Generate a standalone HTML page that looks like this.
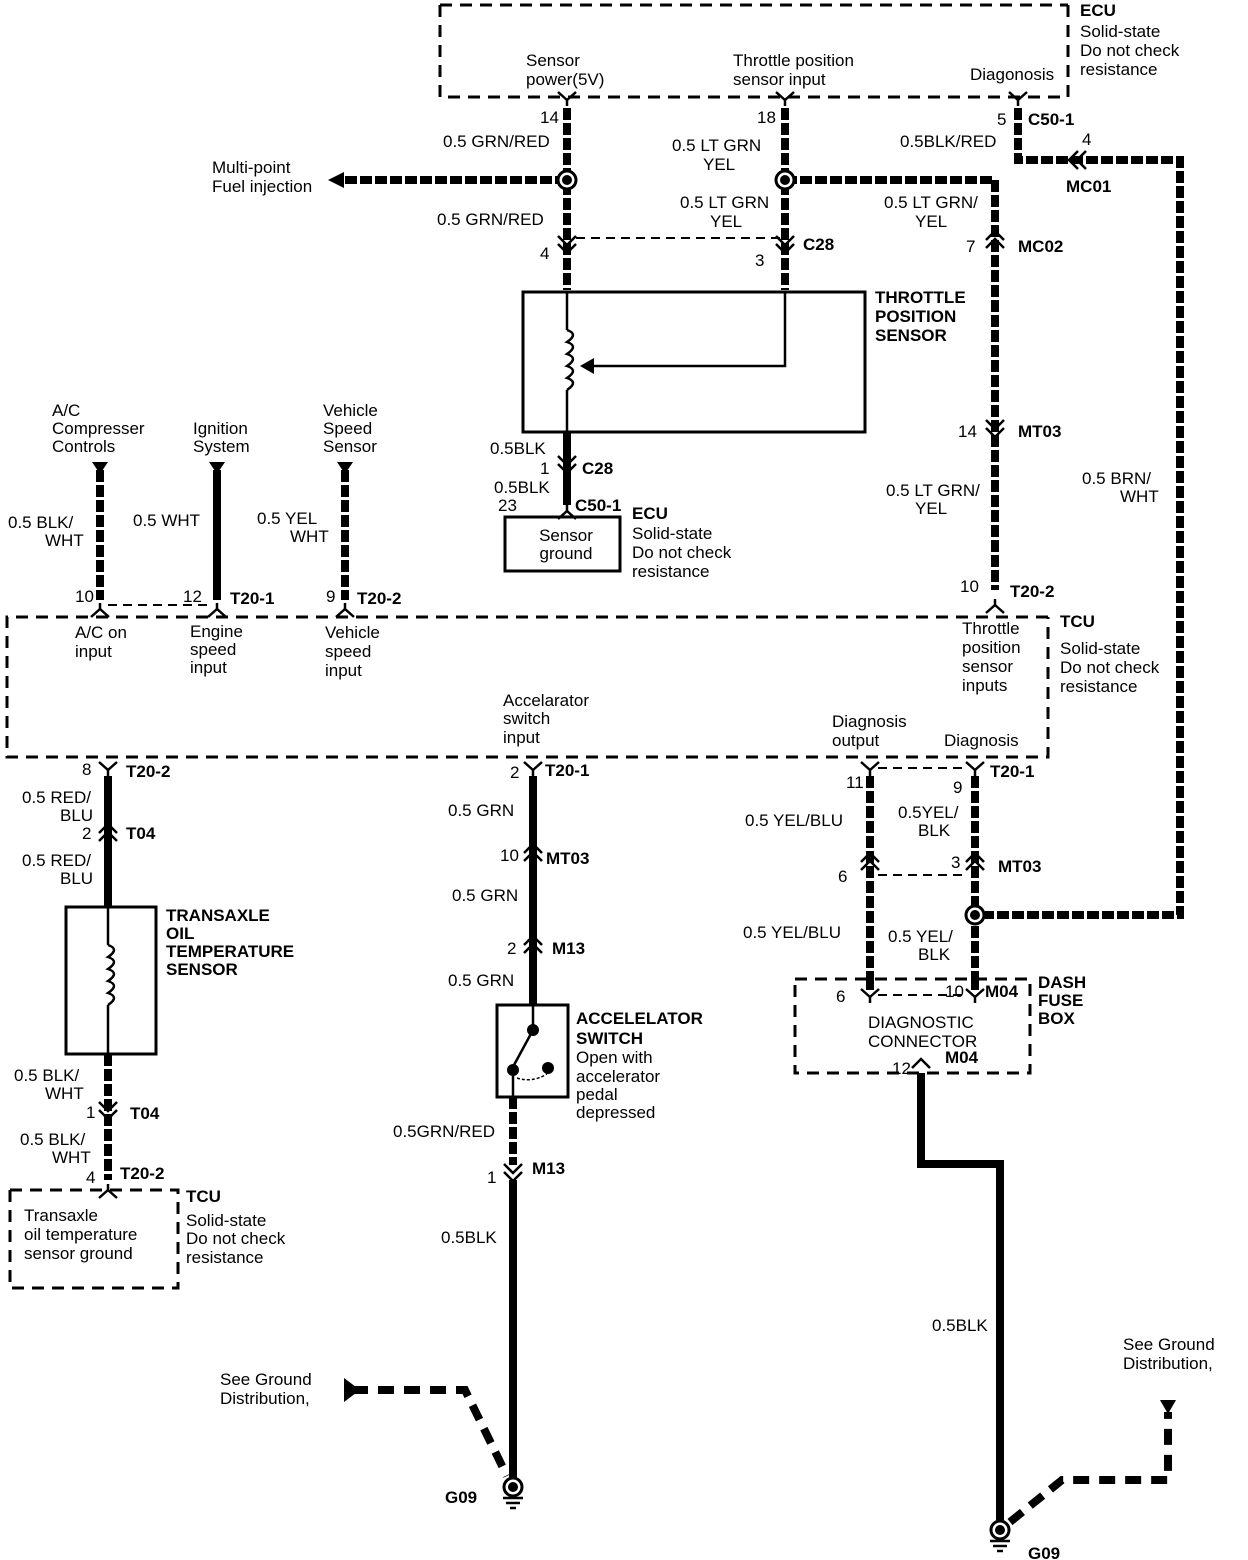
<!DOCTYPE html>
<html><head><meta charset="utf-8"><style>
html,body{margin:0;padding:0;background:#fff}
svg{display:block}
text{font-family:"Liberation Sans",sans-serif;font-size:17px;fill:#000}
.b{font-weight:bold}
.s{stroke:#000;stroke-width:8;fill:none;stroke-dasharray:12 3}
.w{stroke:#000;stroke-width:8;fill:none}
.d{stroke:#000;stroke-width:3;fill:none;stroke-dasharray:12 8}
.dt{stroke:#000;stroke-width:2;fill:none;stroke-dasharray:9 6}
.g{stroke:#000;stroke-width:8;fill:none;stroke-dasharray:16 10}
.t{stroke:#000;stroke-width:2.5;fill:none}
</style></head><body>
<svg width="1248" height="1560" viewBox="0 0 1248 1560" xmlns="http://www.w3.org/2000/svg">
<defs>
<g id="dn"><polyline class="t" points="-9,-8 0,1 9,-8"/><polyline class="t" points="-9,0 0,9 9,0"/></g>
<g id="up"><polyline class="t" points="-9,8 0,-1 9,8"/><polyline class="t" points="-9,0 0,-9 9,0"/></g>
<g id="yd"><polyline class="t" points="-9,-8 0,0 9,-8"/><line class="t" x1="0" y1="0" x2="0" y2="6"/></g>
<g id="yu"><polyline class="t" points="-9,8 0,0 9,8"/><line class="t" x1="0" y1="0" x2="0" y2="-6"/></g>
<g id="sp"><circle r="9" fill="#fff" stroke="#000" stroke-width="3"/><circle r="5" fill="#000"/></g>
</defs>

<!-- ECU top box -->
<polyline class="d" points="440,5 1068,5"/>
<polyline class="d" points="440,5 440,97 1068,97 1068,5"/>
<text x="1080" y="16" class="b">ECU</text>
<text x="1080" y="37">Solid-state</text>
<text x="1080" y="56">Do not check</text>
<text x="1080" y="75">resistance</text>
<text x="526" y="66">Sensor</text>
<text x="526" y="85">power(5V)</text>
<text x="733" y="66">Throttle position</text>
<text x="733" y="85">sensor input</text>
<text x="970" y="80">Diagonosis</text>

<!-- wire 1 -->
<line class="s" x1="567" y1="108" x2="567" y2="290"/>
<use href="#yd" x="567" y="100"/>
<text x="540" y="123">14</text>
<text x="443" y="147">0.5 GRN/RED</text>
<line class="s" x1="567" y1="180" x2="340" y2="180"/>
<polygon points="328,180 344,172 344,188" fill="#000"/>
<text x="212" y="173">Multi-point</text>
<text x="212" y="192">Fuel injection</text>
<use href="#sp" x="567" y="180"/>
<text x="437" y="225">0.5 GRN/RED</text>
<use href="#dn" x="567" y="244"/>
<text x="540" y="259">4</text>
<line class="dt" x1="576" y1="238" x2="780" y2="238"/>

<!-- wire 2 -->
<line class="s" x1="785" y1="108" x2="785" y2="290"/>
<use href="#yd" x="785" y="100"/>
<text x="757" y="123">18</text>
<text x="672" y="151">0.5 LT GRN</text>
<text x="703" y="170">YEL</text>
<line class="s" x1="785" y1="180" x2="995" y2="180"/>
<line class="s" x1="995" y1="180" x2="995" y2="590"/>
<use href="#sp" x="785" y="180"/>
<text x="680" y="208">0.5 LT GRN</text>
<text x="710" y="227">YEL</text>
<use href="#dn" x="785" y="244"/>
<text x="755" y="266">3</text>
<text x="803" y="250" class="b">C28</text>

<!-- wire 3 -->
<polyline class="s" points="1018,108 1018,160 1180,160 1180,915 985,915"/>
<use href="#yd" x="1018" y="100"/>
<text x="997" y="125">5</text>
<text x="1028" y="125" class="b">C50-1</text>
<text x="900" y="147">0.5BLK/RED</text>
<text x="1082" y="145">4</text>
<g transform="translate(1078,160) rotate(90)"><use href="#dn"/></g>
<text x="1066" y="192" class="b">MC01</text>
<text x="1082" y="484">0.5  BRN/</text>
<text x="1120" y="502">WHT</text>

<!-- right column labels -->
<text x="884" y="208">0.5 LT GRN/</text>
<text x="915" y="227">YEL</text>
<use href="#up" x="995" y="240"/>
<text x="966" y="252">7</text>
<text x="1018" y="252" class="b">MC02</text>
<use href="#dn" x="995" y="428"/>
<text x="958" y="437">14</text>
<text x="1018" y="437" class="b">MT03</text>
<text x="886" y="496">0.5 LT GRN/</text>
<text x="915" y="514">YEL</text>
<text x="960" y="592">10</text>
<text x="1010" y="597" class="b">T20-2</text>
<use href="#yu" x="995" y="605"/>

<!-- TPS -->
<rect x="523" y="292" width="342" height="140" fill="none" stroke="#000" stroke-width="3"/>
<line class="t" x1="567" y1="292" x2="567" y2="330"/>
<path d="M567,330 q12,4 0,12 q12,4 0,12 q12,4 0,12 q12,4 0,12 q12,4 0,12" class="t"/>
<line class="t" x1="567" y1="390" x2="567" y2="432"/>
<polyline class="t" points="785,292 785,366 592,366"/>
<polygon points="580,366 594,358 594,374" fill="#000"/>
<text x="875" y="303" class="b">THROTTLE</text>
<text x="875" y="322" class="b">POSITION</text>
<text x="875" y="341" class="b">SENSOR</text>

<line class="w" x1="567" y1="432" x2="567" y2="505"/>
<text x="490" y="454">0.5BLK</text>
<use href="#dn" x="567" y="464"/>
<text x="540" y="474">1</text>
<text x="582" y="474" class="b">C28</text>
<text x="494" y="493">0.5BLK</text>
<text x="498" y="511">23</text>
<text x="575" y="511" class="b">C50-1</text>
<use href="#yu" x="567" y="511"/>
<rect x="505" y="517" width="115" height="54" fill="none" stroke="#000" stroke-width="3"/>
<text x="566" y="541" text-anchor="middle">Sensor</text>
<text x="566" y="559" text-anchor="middle">ground</text>
<text x="632" y="519" class="b">ECU</text>
<text x="632" y="539">Solid-state</text>
<text x="632" y="558">Do not check</text>
<text x="632" y="577">resistance</text>

<!-- left inputs -->
<line class="s" x1="100" y1="470" x2="100" y2="600"/>
<polygon points="92,462 108,462 100,474" fill="#000"/>
<text x="52" y="416">A/C</text>
<text x="52" y="434">Compresser</text>
<text x="52" y="452">Controls</text>
<text x="8" y="528">0.5 BLK/</text>
<text x="45" y="546">WHT</text>
<text x="75" y="602">10</text>
<line class="w" x1="217" y1="470" x2="217" y2="600"/>
<polygon points="209,462 225,462 217,474" fill="#000"/>
<text x="193" y="434">Ignition</text>
<text x="193" y="452">System</text>
<text x="133" y="526">0.5 WHT</text>
<text x="183" y="602">12</text>
<text x="230" y="604" class="b">T20-1</text>
<line class="s" x1="345" y1="470" x2="345" y2="600"/>
<polygon points="337,462 353,462 345,474" fill="#000"/>
<text x="323" y="416">Vehicle</text>
<text x="323" y="434">Speed</text>
<text x="323" y="452">Sensor</text>
<text x="257" y="524">0.5 YEL</text>
<text x="290" y="542">WHT</text>
<text x="326" y="602">9</text>
<text x="357" y="604" class="b">T20-2</text>
<line class="dt" x1="108" y1="605" x2="210" y2="605"/>
<use href="#yu" x="100" y="609"/>
<use href="#yu" x="217" y="609"/>
<use href="#yu" x="345" y="609"/>

<!-- TCU big box -->
<polyline class="d" points="1048,617 7,617 7,757 1048,757 1048,617"/>
<text x="75" y="638">A/C on</text>
<text x="75" y="657">input</text>
<text x="190" y="637">Engine</text>
<text x="190" y="655">speed</text>
<text x="190" y="673">input</text>
<text x="325" y="638">Vehicle</text>
<text x="325" y="657">speed</text>
<text x="325" y="676">input</text>
<text x="962" y="634">Throttle</text>
<text x="962" y="653">position</text>
<text x="962" y="672">sensor</text>
<text x="962" y="691">inputs</text>
<text x="1060" y="627" class="b">TCU</text>
<text x="1060" y="654">Solid-state</text>
<text x="1060" y="673">Do not check</text>
<text x="1060" y="692">resistance</text>
<text x="503" y="706">Accelarator</text>
<text x="503" y="724">switch</text>
<text x="503" y="743">input</text>
<text x="832" y="727">Diagnosis</text>
<text x="832" y="746">output</text>
<text x="944" y="746">Diagnosis</text>

<!-- bottom-left -->
<use href="#yd" x="108" y="770"/>
<line class="w" x1="108" y1="776" x2="108" y2="907"/>
<text x="82" y="775">8</text>
<text x="126" y="777" class="b">T20-2</text>
<text x="22" y="803">0.5 RED/</text>
<text x="60" y="821">BLU</text>
<use href="#up" x="108" y="833"/>
<text x="82" y="839">2</text>
<text x="126" y="839" class="b">T04</text>
<text x="22" y="866">0.5 RED/</text>
<text x="60" y="884">BLU</text>
<rect x="66" y="907" width="90" height="147" fill="none" stroke="#000" stroke-width="3"/>
<line class="t" x1="108" y1="907" x2="108" y2="945"/>
<path d="M108,945 q12,4 0,12 q12,4 0,12 q12,4 0,12 q12,4 0,12 q12,4 0,12" class="t"/>
<line class="t" x1="108" y1="1005" x2="108" y2="1054"/>
<text x="166" y="921" class="b">TRANSAXLE</text>
<text x="166" y="939" class="b">OIL</text>
<text x="166" y="957" class="b">TEMPERATURE</text>
<text x="166" y="975" class="b">SENSOR</text>
<line class="s" x1="108" y1="1054" x2="108" y2="1180"/>
<text x="14" y="1081">0.5 BLK/</text>
<text x="45" y="1099">WHT</text>
<use href="#dn" x="108" y="1110"/>
<text x="86" y="1118">1</text>
<text x="130" y="1119" class="b">T04</text>
<text x="20" y="1145">0.5 BLK/</text>
<text x="52" y="1163">WHT</text>
<text x="86" y="1183">4</text>
<text x="120" y="1179" class="b">T20-2</text>
<use href="#yu" x="108" y="1190"/>
<polyline class="d" points="10,1190 178,1190 178,1288 10,1288 10,1190"/>
<text x="24" y="1221">Transaxle</text>
<text x="24" y="1240">oil temperature</text>
<text x="24" y="1259">sensor ground</text>
<text x="186" y="1202" class="b">TCU</text>
<text x="186" y="1226">Solid-state</text>
<text x="186" y="1244">Do not check</text>
<text x="186" y="1263">resistance</text>

<!-- middle bottom -->
<use href="#yd" x="533" y="770"/>
<line class="w" x1="533" y1="776" x2="533" y2="1005"/>
<text x="510" y="778">2</text>
<text x="545" y="776" class="b">T20-1</text>
<text x="448" y="816">0.5 GRN</text>
<use href="#up" x="533" y="853"/>
<text x="500" y="861">10</text>
<text x="546" y="864" class="b">MT03</text>
<text x="452" y="901">0.5 GRN</text>
<use href="#up" x="533" y="945"/>
<text x="507" y="954">2</text>
<text x="552" y="954" class="b">M13</text>
<text x="448" y="986">0.5 GRN</text>
<rect x="497" y="1005" width="71" height="92" fill="none" stroke="#000" stroke-width="3"/>
<line class="t" x1="533" y1="1005" x2="533" y2="1028"/>
<circle cx="533" cy="1030" r="6"/>
<line class="t" x1="533" y1="1030" x2="514" y2="1065"/>
<circle cx="513" cy="1070" r="6"/>
<circle cx="548" cy="1068" r="6"/>
<path d="M517,1078 q15,5 30,-4" stroke="#000" stroke-width="1.5" stroke-dasharray="3 2" fill="none"/>
<line class="t" x1="513" y1="1070" x2="513" y2="1097"/>
<text x="576" y="1024" class="b">ACCELELATOR</text>
<text x="576" y="1044" class="b">SWITCH</text>
<text x="576" y="1063">Open with</text>
<text x="576" y="1082">accelerator</text>
<text x="576" y="1100">pedal</text>
<text x="576" y="1118">depressed</text>
<line class="s" x1="513" y1="1097" x2="513" y2="1165"/>
<text x="393" y="1137">0.5GRN/RED</text>
<use href="#dn" x="513" y="1172"/>
<text x="487" y="1183">1</text>
<text x="532" y="1174" class="b">M13</text>
<line class="w" x1="513" y1="1180" x2="513" y2="1478"/>
<text x="441" y="1243">0.5BLK</text>
<circle cx="513" cy="1487" r="9" fill="#fff" stroke="#000" stroke-width="3"/>
<circle cx="513" cy="1487" r="5"/>
<line class="t" x1="503" y1="1498" x2="523" y2="1498"/>
<line class="t" x1="506" y1="1503" x2="520" y2="1503"/>
<line class="t" x1="510" y1="1508" x2="516" y2="1508"/>
<text x="445" y="1503" class="b">G09</text>
<polyline class="g" points="352,1390 465,1390 507,1476"/>
<polygon points="344,1378 360,1390 344,1402" fill="#000"/>
<text x="220" y="1385">See Ground</text>
<text x="220" y="1404">Distribution,</text>

<!-- right bottom -->
<use href="#yd" x="870" y="770"/>
<use href="#yd" x="975" y="770"/>
<line class="s" x1="870" y1="776" x2="870" y2="995"/>
<line class="s" x1="975" y1="776" x2="975" y2="995"/>
<line class="dt" x1="878" y1="768" x2="968" y2="768"/>
<line class="dt" x1="878" y1="875" x2="968" y2="875"/>
<text x="846" y="788">11</text>
<text x="953" y="793">9</text>
<text x="990" y="777" class="b">T20-1</text>
<text x="745" y="826">0.5 YEL/BLU</text>
<text x="898" y="818">0.5YEL/</text>
<text x="918" y="836">BLK</text>
<use href="#up" x="870" y="862"/>
<use href="#up" x="975" y="862"/>
<text x="838" y="882">6</text>
<text x="951" y="868">3</text>
<text x="998" y="872" class="b">MT03</text>
<text x="743" y="938">0.5 YEL/BLU</text>
<text x="888" y="942">0.5 YEL/</text>
<text x="918" y="960">BLK</text>
<use href="#sp" x="975" y="915"/>
<rect x="795" y="979" width="235" height="94" fill="#fff" stroke="none"/>
<polyline class="d" points="795,979 1030,979 1030,1073 795,1073 795,979"/>
<line class="dt" x1="878" y1="995" x2="968" y2="995"/>
<line class="s" x1="870" y1="979" x2="870" y2="990"/>
<line class="s" x1="975" y1="979" x2="975" y2="990"/>
<use href="#yd" x="870" y="997"/>
<use href="#yd" x="975" y="997"/>
<text x="836" y="1002">6</text>
<text x="945" y="997">10</text>
<text x="985" y="997" class="b">M04</text>
<text x="868" y="1028">DIAGNOSTIC</text>
<text x="868" y="1047">CONNECTOR</text>
<text x="892" y="1074">12</text>
<text x="945" y="1063" class="b">M04</text>
<polyline class="t" points="912,1068 921,1059 930,1068"/>
<text x="1038" y="988" class="b">DASH</text>
<text x="1038" y="1006" class="b">FUSE</text>
<text x="1038" y="1024" class="b">BOX</text>
<polyline class="w" points="921,1073 921,1164 1000,1164 1000,1520"/>
<text x="932" y="1331">0.5BLK</text>
<circle cx="1000" cy="1530" r="9" fill="#fff" stroke="#000" stroke-width="3"/>
<circle cx="1000" cy="1530" r="5"/>
<line class="t" x1="990" y1="1541" x2="1010" y2="1541"/>
<line class="t" x1="993" y1="1546" x2="1007" y2="1546"/>
<line class="t" x1="997" y1="1551" x2="1003" y2="1551"/>
<text x="1028" y="1559" class="b">G09</text>
<polyline class="g" points="1010,1522 1062,1480 1168,1480 1168,1412"/>
<polygon points="1160,1400 1176,1400 1168,1414" fill="#000"/>
<text x="1123" y="1350">See Ground</text>
<text x="1123" y="1369">Distribution,</text>
</svg>
</body></html>
